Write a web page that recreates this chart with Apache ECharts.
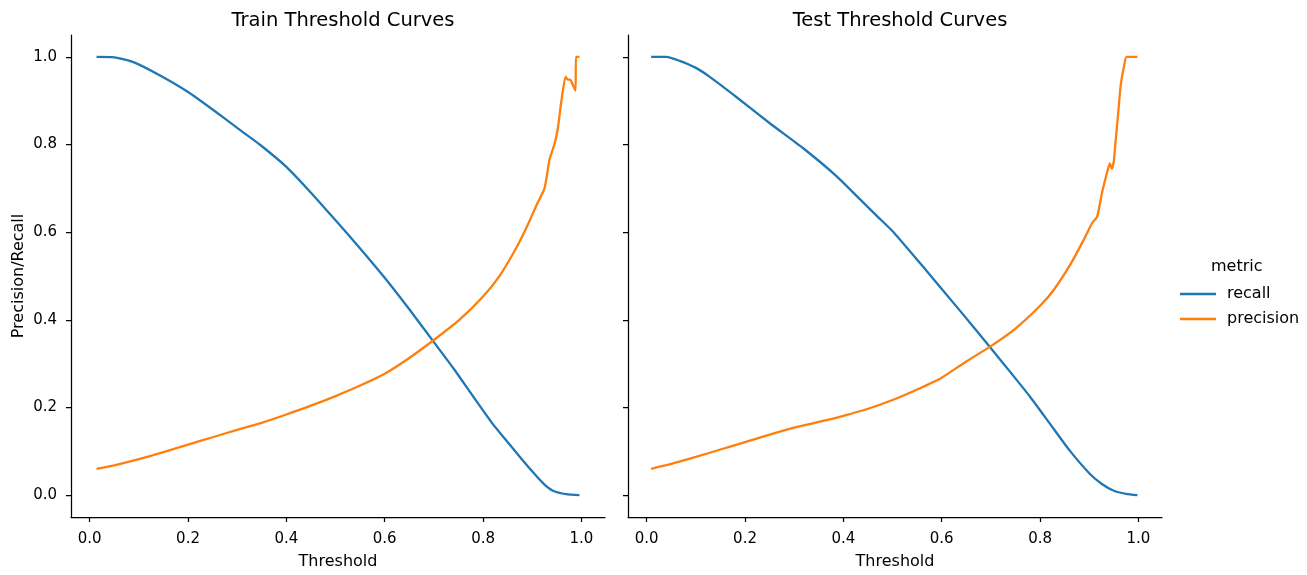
<!DOCTYPE html>
<html>
<head>
<meta charset="utf-8">
<script src="https://cdn.jsdelivr.net/npm/echarts@6/dist/echarts.min.js"></script>
<style>
  html, body { margin: 0; padding: 0; background: #fff; }
  #chart { width: 1307px; height: 575px; }
</style>
</head>
<body>
<div id="chart"></div>
<script>
// values
const tickValues = [0, 0.2, 0.4, 0.6, 0.8, 1.0];

const trainRecallX = [0.014, 0.05, 0.089, 0.144, 0.2, 0.25, 0.3, 0.347, 0.4, 0.45, 0.5, 0.55, 0.6, 0.65, 0.7, 0.74, 0.78, 0.82, 0.847, 0.88, 0.908, 0.925, 0.942, 0.969, 0.996];
const trainRecall = [1.0, 0.999, 0.988, 0.957, 0.92, 0.88, 0.838, 0.799, 0.749, 0.69, 0.627, 0.563, 0.496, 0.424, 0.349, 0.289, 0.225, 0.162, 0.125, 0.08, 0.044, 0.024, 0.01, 0.002, 0.0];

const trainPrecX = [0.014, 0.05, 0.1, 0.15, 0.2, 0.25, 0.3, 0.35, 0.4, 0.45, 0.5, 0.55, 0.6, 0.65, 0.7, 0.75, 0.8, 0.834, 0.868, 0.891, 0.91, 0.925, 0.935, 0.945, 0.952, 0.959, 0.968, 0.972, 0.977, 0.983, 0.988, 0.989, 0.996];
const trainPrec = [0.06, 0.068, 0.082, 0.098, 0.115, 0.132, 0.149, 0.165, 0.184, 0.204, 0.226, 0.25, 0.277, 0.313, 0.354, 0.398, 0.453, 0.501, 0.565, 0.617, 0.665, 0.7, 0.765, 0.8, 0.836, 0.897, 0.955, 0.948, 0.948, 0.935, 0.923, 1.0, 1.0];

const testRecallX = [0.009, 0.04, 0.067, 0.1, 0.129, 0.183, 0.251, 0.319, 0.387, 0.433, 0.47, 0.502, 0.569, 0.637, 0.698, 0.74, 0.78, 0.82, 0.86, 0.9, 0.925, 0.95, 0.975, 0.998];
const testRecall = [1.0, 1.0, 0.991, 0.975, 0.954, 0.908, 0.848, 0.791, 0.727, 0.676, 0.635, 0.6, 0.512, 0.421, 0.338, 0.28, 0.224, 0.163, 0.102, 0.05, 0.026, 0.01, 0.003, 0.0];

const testPrecX = [0.009, 0.05, 0.1, 0.15, 0.2, 0.25, 0.3, 0.35, 0.4, 0.45, 0.5, 0.55, 0.6, 0.65, 0.7, 0.75, 0.8, 0.827, 0.862, 0.889, 0.906, 0.916, 0.926, 0.936, 0.942, 0.946, 0.95, 0.953, 0.958, 0.964, 0.971, 0.976, 0.998];
const testPrec = [0.06, 0.071, 0.087, 0.104, 0.121, 0.138, 0.154, 0.167, 0.181, 0.197, 0.217, 0.241, 0.268, 0.305, 0.34, 0.38, 0.432, 0.467, 0.527, 0.583, 0.621, 0.635, 0.69, 0.735, 0.757, 0.745, 0.762, 0.8, 0.86, 0.935, 0.98, 1.0, 1.0];

const titles = ['Train Threshold Curves', 'Test Threshold Curves'];
const seriesNames = ['recall', 'precision'];
const colors = ['#1f77b4', '#ff7f0e'];

function pairs(xs, ys) {
    return xs.map((x, i) => [x, ys[i]]);
}

const font = 'DejaVu Sans';
const grids = [
    { left: 71, top: 35, width: 534, height: 487 },
    { left: 628, top: 35, width: 534, height: 487 }
];

function xAxisFor(idx) {
    return {
        gridIndex: idx,
        type: 'value',
        min: -0.038,
        max: 1.048,
        name: 'Threshold',
        nameLocation: 'middle',
        nameGap: 37,
        nameTextStyle: { fontFamily: font, fontSize: 16, color: '#000' },
        axisLine: { onZero: false, lineStyle: { color: '#000', width: 1.25 } },
        axisTick: { show: true, length: 5, customValues: tickValues, lineStyle: { color: '#000', width: 1.25 } },
        axisLabel: {
            customValues: tickValues, margin: 15,
            fontFamily: font, fontSize: 15, color: '#000',
            formatter: v => v.toFixed(1)
        },
        splitLine: { show: false }
    };
}

function yAxisFor(idx) {
    return {
        gridIndex: idx,
        type: 'value',
        min: -0.05,
        max: 1.05,
        name: idx === 0 ? 'Precision/Recall' : '',
        nameLocation: 'middle',
        nameGap: 44,
        nameTextStyle: { fontFamily: font, fontSize: 16, color: '#000' },
        axisLine: { show: true, onZero: false, lineStyle: { color: '#000', width: 1.25 } },
        axisTick: { show: true, length: 5, customValues: tickValues, lineStyle: { color: '#000', width: 1.25 } },
        axisLabel: {
            show: idx === 0, customValues: tickValues, margin: 14,
            fontFamily: font, fontSize: 15, color: '#000',
            formatter: v => v.toFixed(1)
        },
        splitLine: { show: false }
    };
}

function lineSeries(name, idx, data, color) {
    return {
        name: name,
        type: 'line',
        xAxisIndex: idx,
        yAxisIndex: idx,
        data: data,
        symbol: 'none',
        smooth: 0.2,
        lineStyle: { color: color, width: 2.3 },
        itemStyle: { color: color },
        animation: false
    };
}

const chart = echarts.init(document.getElementById('chart'));
const option = {
    backgroundColor: '#fff',
    animation: false,
    title: titles.map((t, i) => ({
        text: t,
        left: grids[i].left + grids[i].width / 2,
        top: 6,
        textAlign: 'center',
        textStyle: { fontFamily: font, fontSize: 19.5, fontWeight: 'normal', color: '#000' }
    })),
    grid: grids,
    xAxis: [xAxisFor(0), xAxisFor(1)],
    yAxis: [yAxisFor(0), yAxisFor(1)],
    legend: {
        data: seriesNames,
        orient: 'vertical',
        left: 1175,
        top: 281,
        icon: 'rect',
        itemWidth: 36,
        itemHeight: 2.5,
        itemGap: 9,
        textStyle: { fontFamily: font, fontSize: 16, color: '#000', padding: [0, 0, 0, 6] }
    },
    graphic: [{
        type: 'text',
        left: 1211,
        top: 259,
        style: { text: 'metric', fontFamily: font, fontSize: 16, fill: '#000' }
    }],
    series: [
        lineSeries(seriesNames[0], 0, pairs(trainRecallX, trainRecall), colors[0]),
        lineSeries(seriesNames[1], 0, pairs(trainPrecX, trainPrec), colors[1]),
        lineSeries(seriesNames[0], 1, pairs(testRecallX, testRecall), colors[0]),
        lineSeries(seriesNames[1], 1, pairs(testPrecX, testPrec), colors[1])
    ]
};
chart.setOption(option);
</script>
</body>
</html>
